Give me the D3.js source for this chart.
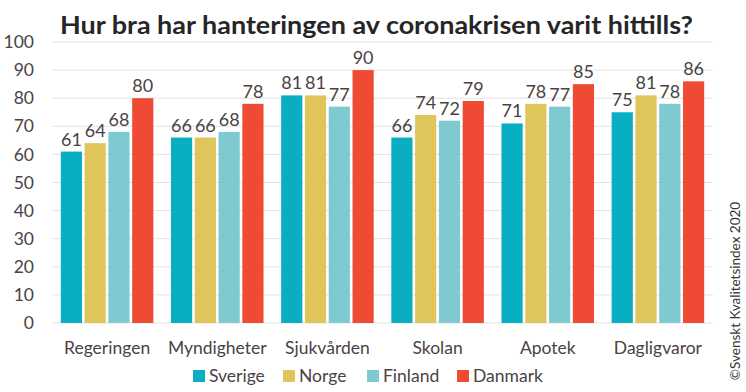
<!DOCTYPE html>
<html>
<head>
<meta charset="utf-8">
<script src="https://cdn.jsdelivr.net/npm/d3@7"></script>
<style>
  html, body { margin: 0; padding: 0; background: #fff; }
  svg { display: block; }
</style>
</head>
<body>
<div id="chart"></div>
<script>
// Kategorier, serier och värden
const categories = ['Regeringen', 'Myndigheter', 'Sjukvården', 'Skolan', 'Apotek', 'Dagligvaror'];
const seriesNames = ['Sverige', 'Norge', 'Finland', 'Danmark'];
const sverige = [61, 66, 81, 66, 71, 75];
const norge = [64, 66, 81, 74, 78, 81];
const finland = [68, 68, 77, 72, 77, 78];
const danmark = [80, 78, 90, 79, 85, 86];
const yTicks = [0, 10, 20, 30, 40, 50, 60, 70, 80, 90, 100];

const COLORS = ['#0aaec3', '#e0c55a', '#7fc9d1', '#ef4a33'];
const FONT = 'Lato, "Open Sans", sans-serif';
const TEXT = '#4a4343';

const W = 746, H = 392;
const plotL = 52, plotR = 713, plotT = 42, plotB = 323;

const values = [sverige, norge, finland, danmark];

const svg = d3.select('#chart').append('svg')
  .attr('width', W).attr('height', H)
  .attr('viewBox', `0 0 ${W} ${H}`);

const x0 = d3.scaleBand().domain(categories).range([plotL, plotR]).paddingInner(0.16).paddingOuter(0.08);
const x1 = d3.scaleBand().domain(seriesNames).range([0, x0.bandwidth()]).paddingInner(0.11);
const y = d3.scaleLinear().domain([0, 100]).range([plotB, plotT]);

// Title
svg.append('text')
  .attr('x', 60).attr('y', 34)
  .attr('font-family', FONT)
  .attr('font-weight', 700)
  .attr('font-size', 25)
  .attr('fill', '#262626')
  .attr('textLength', 633)
  .attr('lengthAdjust', 'spacingAndGlyphs')
  .text('Hur bra har hanteringen av coronakrisen varit hittills?');

// Gridlines
svg.append('g').selectAll('line')
  .data(yTicks)
  .join('line')
  .attr('x1', plotL).attr('x2', plotR)
  .attr('y1', d => y(d)).attr('y2', d => y(d))
  .attr('stroke', '#e3e3e3')
  .attr('stroke-width', 1);

// Y axis
const yAxis = svg.append('g')
  .attr('transform', `translate(${plotL - 18},0)`)
  .call(d3.axisLeft(y).tickValues(yTicks).tickSize(0).tickPadding(0));
yAxis.select('.domain').remove();
yAxis.selectAll('text')
  .attr('font-family', FONT)
  .attr('font-size', 17.5)
  .attr('fill', TEXT);

// Bars
const groups = svg.append('g').selectAll('g')
  .data(categories)
  .join('g')
  .attr('transform', d => `translate(${x0(d)},0)`);

groups.selectAll('rect')
  .data((c, ci) => seriesNames.map((s, si) => ({ s, si, v: values[si][ci] })))
  .join('rect')
  .attr('x', d => x1(d.s))
  .attr('y', d => y(d.v))
  .attr('width', x1.bandwidth())
  .attr('height', d => y(0) - y(d.v))
  .attr('fill', d => COLORS[d.si]);

groups.selectAll('text.val')
  .data((c, ci) => seriesNames.map((s, si) => ({ s, si, v: values[si][ci] })))
  .join('text')
  .attr('class', 'val')
  .attr('x', d => x1(d.s) + x1.bandwidth() / 2)
  .attr('y', d => y(d.v) - 6)
  .attr('text-anchor', 'middle')
  .attr('font-family', FONT)
  .attr('font-size', 18)
  .attr('fill', TEXT)
  .text(d => d.v);

// X axis labels
const xAxis = svg.append('g')
  .attr('transform', `translate(0,${plotB + 19})`)
  .call(d3.axisBottom(x0).tickSize(0).tickPadding(0));
xAxis.select('.domain').remove();
xAxis.selectAll('text')
  .attr('font-family', FONT)
  .attr('font-size', 17.5)
  .attr('fill', TEXT);

// Legend
const legendX = [193, 283, 367, 457];
const legend = svg.append('g').selectAll('g')
  .data(seriesNames)
  .join('g')
  .attr('transform', (d, i) => `translate(${legendX[i]},370)`);
legend.append('rect')
  .attr('width', 12).attr('height', 12)
  .attr('fill', (d, i) => COLORS[i]);
legend.append('text')
  .attr('x', 16).attr('y', 12)
  .attr('font-family', FONT)
  .attr('font-size', 17.5)
  .attr('fill', TEXT)
  .text(d => d);

// Copyright, vertical
svg.append('text')
  .attr('transform', 'translate(740,291) rotate(-90)')
  .attr('text-anchor', 'middle')
  .attr('font-family', FONT)
  .attr('font-size', 13.5)
  .attr('fill', '#333')
  .text('©Svenskt Kvalitetsindex 2020');
</script>
</body>
</html>
